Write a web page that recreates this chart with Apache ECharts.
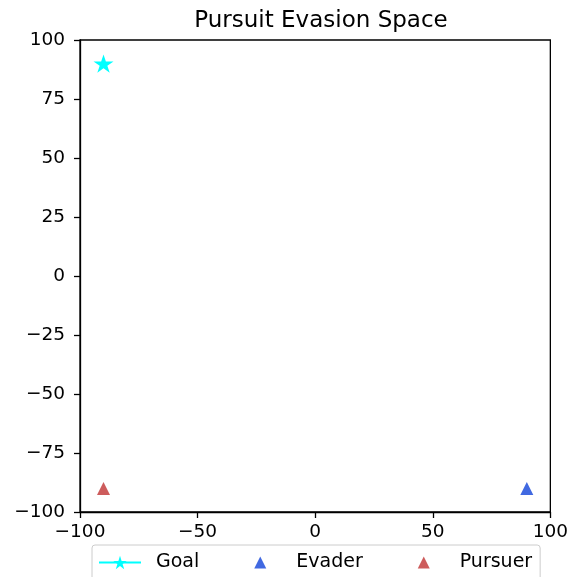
<!DOCTYPE html>
<html>
<head>
<meta charset="utf-8">
<script src="https://cdn.jsdelivr.net/npm/echarts@6/dist/echarts.min.js"></script>
<style>
  html, body { margin: 0; padding: 0; background: #fff; }
  #chart { width: 571px; height: 577px; }
</style>
</head>
<body>
<div id="chart"></div>
<script>
    // positions
    var goalPoint = [[-90, 90]];
    var evaderPoint = [[90, -90]];
    var pursuerPoint = [[-90, -90]];
    var seriesNames = ['Goal', 'Evader', 'Pursuer'];
    var axisMin = -100, axisMax = 100;

    var starPath = 'path://M0,-1 L0.2245,-0.309 L0.951,-0.309 L0.363,0.118 L0.588,0.809 L0,0.382 L-0.588,0.809 L-0.363,0.118 L-0.951,-0.309 L-0.2245,-0.309 Z';
    // triangle padded to the whole legend box so it keeps its real size, centred
    var legendTri = 'path://M0,0 L0,0 M42,17 L42,17 M15,14.5 L21,2.5 L27,14.5 Z';

    function minus(v) {
        return String(v).replace('-', '\u2212');
    }

    var chart = echarts.init(document.getElementById('chart'));
    var font = 'DejaVu Sans';

    var option = {
        animation: false,
        textStyle: { fontFamily: font },
        title: {
            text: 'Pursuit Evasion Space',
            left: 316,
            textAlign: 'center',
            top: 5,
            textStyle: { fontFamily: font, fontSize: 23, fontWeight: 'normal', color: '#000' }
        },
        grid: {
            left: 80, top: 40, width: 472, height: 472,
            show: true, borderColor: '#000', borderWidth: 1.3, backgroundColor: '#fff'
        },
        legend: {
            data: [
                { name: seriesNames[0] },
                { name: seriesNames[1], icon: legendTri },
                { name: seriesNames[2], icon: legendTri }
            ],
            left: 92, top: 545,
            itemWidth: 42, itemHeight: 17, itemGap: 40,
            padding: [8, 8, 10, 6],
            borderColor: '#ccc', borderWidth: 1, borderRadius: 3,
            textStyle: { fontFamily: font, fontSize: 19, color: '#000', padding: [0, 0, 0, 10] }
        },
        xAxis: {
            type: 'value', min: axisMin, max: axisMax, interval: 50,
            axisLine: { show: true, onZero: false, lineStyle: { color: '#000', width: 1.3 } },
            axisTick: { show: true, length: 6, lineStyle: { color: '#000', width: 1.3 } },
            axisLabel: { fontSize: 18.5, color: '#000', margin: 11, formatter: minus },
            splitLine: { show: false }
        },
        yAxis: {
            type: 'value', min: axisMin, max: axisMax, interval: 25,
            axisLine: { show: true, onZero: false, lineStyle: { color: '#000', width: 1.3 } },
            axisTick: { show: true, length: 6, lineStyle: { color: '#000', width: 1.3 } },
            axisLabel: { fontSize: 18.5, color: '#000', margin: 15, formatter: minus },
            splitLine: { show: false }
        },
        series: [{
            name: seriesNames[0],
            type: 'line',
            data: goalPoint,
            symbol: starPath,
            symbolSize: [20, 19],
            symbolKeepAspect: true,
            itemStyle: { color: '#00ffff' },
            lineStyle: { color: '#00ffff', width: 2 }
        }, {
            name: seriesNames[1],
            type: 'scatter',
            data: evaderPoint,
            symbol: 'triangle',
            symbolSize: 13,
            itemStyle: { color: '#4169e1', opacity: 1 }
        }, {
            name: seriesNames[2],
            type: 'scatter',
            data: pursuerPoint,
            symbol: 'triangle',
            symbolSize: 13,
            itemStyle: { color: '#cd5c5c', opacity: 1 }
        }]
    };
    chart.setOption(option);
</script>
</body>
</html>
